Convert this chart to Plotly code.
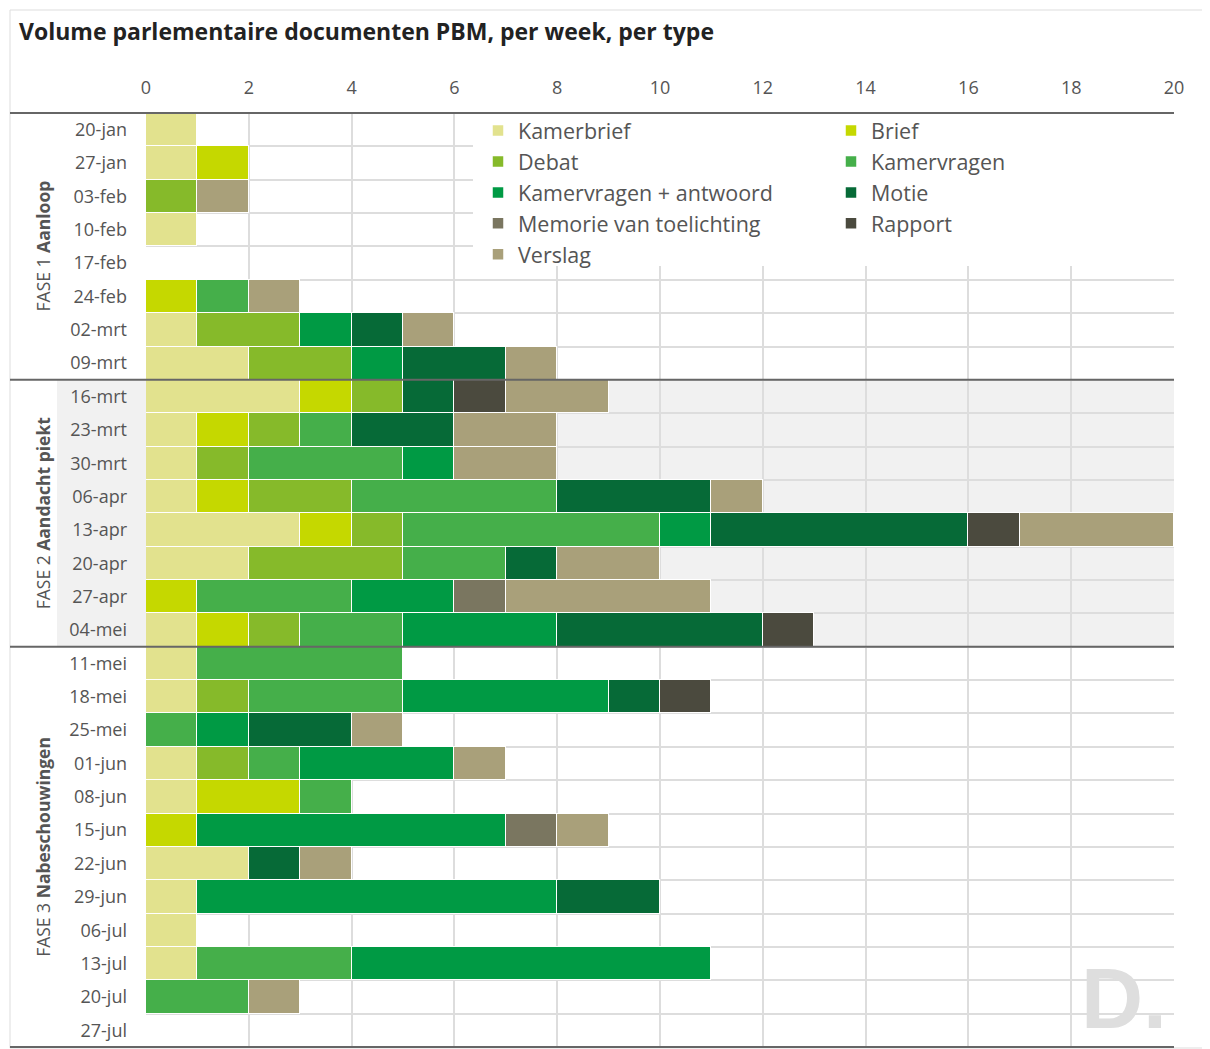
import plotly.graph_objects as go

weeks = ["20-jan", "27-jan", "03-feb", "10-feb", "17-feb", "24-feb", "02-mrt", "09-mrt",
         "16-mrt", "23-mrt", "30-mrt", "06-apr", "13-apr", "20-apr", "27-apr", "04-mei",
         "11-mei", "18-mei", "25-mei", "01-jun", "08-jun", "15-jun", "22-jun", "29-jun",
         "06-jul", "13-jul", "20-jul", "27-jul"]

kamerbrief   = [1, 1, 0, 1, 0, 0, 1, 2, 3, 1, 1, 1, 3, 2, 0, 1, 1, 1, 0, 1, 1, 0, 2, 1, 1, 1, 0, 0]
brief        = [0, 1, 0, 0, 0, 1, 0, 0, 1, 1, 0, 1, 1, 0, 1, 1, 0, 0, 0, 0, 2, 1, 0, 0, 0, 0, 0, 0]
debat        = [0, 0, 1, 0, 0, 0, 2, 2, 1, 1, 1, 2, 1, 3, 0, 1, 0, 1, 0, 1, 0, 0, 0, 0, 0, 0, 0, 0]
kamervragen  = [0, 0, 0, 0, 0, 1, 0, 0, 0, 1, 3, 4, 5, 2, 3, 2, 4, 3, 1, 1, 1, 0, 0, 0, 0, 3, 2, 0]
kv_antwoord  = [0, 0, 0, 0, 0, 0, 1, 1, 0, 0, 1, 0, 1, 0, 2, 3, 0, 4, 1, 3, 0, 6, 0, 7, 0, 7, 0, 0]
motie        = [0, 0, 0, 0, 0, 0, 1, 2, 1, 2, 0, 3, 5, 1, 0, 4, 0, 1, 2, 0, 0, 0, 1, 2, 0, 0, 0, 0]
memorie      = [0, 0, 0, 0, 0, 0, 0, 0, 0, 0, 0, 0, 0, 0, 1, 0, 0, 0, 0, 0, 0, 1, 0, 0, 0, 0, 0, 0]
rapport      = [0, 0, 0, 0, 0, 0, 0, 0, 1, 0, 0, 0, 1, 0, 0, 1, 0, 1, 0, 0, 0, 0, 0, 0, 0, 0, 0, 0]
verslag      = [0, 0, 1, 0, 0, 1, 1, 1, 2, 2, 2, 1, 3, 2, 4, 0, 0, 0, 1, 1, 0, 1, 1, 0, 0, 0, 1, 0]

series_names = ["Kamerbrief", "Brief", "Debat", "Kamervragen", "Kamervragen + antwoord",
                "Motie", "Memorie van toelichting", "Rapport", "Verslag"]
series_values = [kamerbrief, brief, debat, kamervragen, kv_antwoord, motie, memorie, rapport, verslag]
series_colors = ["#e2e28e", "#c5d800", "#86ba2a", "#45af4a", "#009a44",
                 "#066a37", "#7a7660", "#4b4a3e", "#a9a07a"]

x_ticks = [0, 2, 4, 6, 8, 10, 12, 14, 16, 18, 20]
title = "Volume parlementaire documenten PBM, per week, per type"
phases = ["FASE 1 <b>Aanloop</b>", "FASE 2 <b>Aandacht piekt</b>", "FASE 3 <b>Nabeschouwingen</b>"]
phase_rows = [(0, 8), (8, 16), (16, 28)]

# page has an 8px body margin; screen coordinates below are compensated
OFF = 8
W, H = 1210 - OFF, 1049 - OFF
L, R, T, B = 146 - OFF, 36, 113 - OFF, 2
PW, PH = W - L - R, H - T - B
n = len(weeks)

def px(xs):
    return (xs - OFF - L) / PW

def py(ys):
    return 1 - (ys - OFF - T) / PH

def rowy(k):
    return 1 - k / n

FONT = "Open Sans, Noto Sans, sans-serif"

fig = go.Figure()
for name, vals, col in zip(series_names, series_values, series_colors):
    fig.add_trace(go.Bar(
        y=weeks, x=[v if v else None for v in vals], name=name, orientation="h",
        marker=dict(color=col, line=dict(color="white", width=1.5)),
    ))

shapes = []
# phase 2 gray band
shapes.append(dict(type="rect", xref="paper", yref="paper", x0=px(57), x1=1,
                   y0=rowy(16), y1=rowy(8), fillcolor="#f1f1f1", line=dict(width=0), layer="below"))
# white area behind legend
shapes.append(dict(type="rect", xref="paper", yref="paper", x0=px(473), x1=1,
                   y0=py(266), y1=1, fillcolor="white", line=dict(width=0), layer="above"))
# outer frame
shapes.append(dict(type="rect", xref="paper", yref="paper", x0=px(10), x1=px(1209),
                   y0=py(1048), y1=py(10), line=dict(color="#dddddd", width=1)))
# phase separator lines
for k in [0, 8, 16, 28]:
    shapes.append(dict(type="line", xref="paper", yref="paper", x0=px(10), x1=1,
                       y0=rowy(k), y1=rowy(k), line=dict(color="#666666", width=2)))

annotations = [
    dict(text="<b>" + title + "</b>", xref="paper", yref="paper", x=px(17), y=py(31),
         xanchor="left", yanchor="middle", showarrow=False,
         font=dict(family=FONT, size=23, color="#222222")),
    dict(text="<b>D.</b>", xref="paper", yref="paper", x=px(1124), y=py(1048),
         xanchor="center", yanchor="bottom", showarrow=False,
         font=dict(family="Liberation Sans, Arial, sans-serif", size=86, color="#dedede")),
]
for label, (a, b) in zip(phases, phase_rows):
    annotations.append(dict(text=label, xref="paper", yref="paper", x=px(43),
                            y=1 - (a + b) / 2 / n, textangle=-90, showarrow=False,
                            xanchor="center", yanchor="middle",
                            font=dict(family=FONT, size=17.5, color="#555555")))

fig.update_layout(
    width=W, height=H, margin=dict(l=L, r=R, t=T, b=B, autoexpand=False),
    paper_bgcolor="white", plot_bgcolor="rgba(0,0,0,0)",
    barmode="stack", bargap=0.0,
    font=dict(family=FONT, color="#555555"),
    showlegend=True,
    legend=dict(orientation="h", x=px(478), xanchor="left", y=py(110), yanchor="top",
                bgcolor="rgba(0,0,0,0)", entrywidth=308, traceorder="normal",
                font=dict(family=FONT, size=21.5, color="#555555"), itemclick=False),
    xaxis=dict(side="top", range=[0, 20], tickvals=x_ticks, showgrid=True,
               gridcolor="#dddddd", gridwidth=2, zeroline=False, ticks="",
               tickfont=dict(family=FONT, size=18, color="#555555"), ticklabelstandoff=14,
               fixedrange=True),
    yaxis=dict(type="category", categoryorder="array", categoryarray=weeks,
               autorange="reversed", tickson="boundaries", showgrid=True,
               gridcolor="#dddddd", gridwidth=2, ticks="", zeroline=False,
               tickfont=dict(family=FONT, size=18, color="#555555"), ticklabelstandoff=18,
               fixedrange=True),
    shapes=shapes, annotations=annotations,
)

fig.write_html("out.html")
